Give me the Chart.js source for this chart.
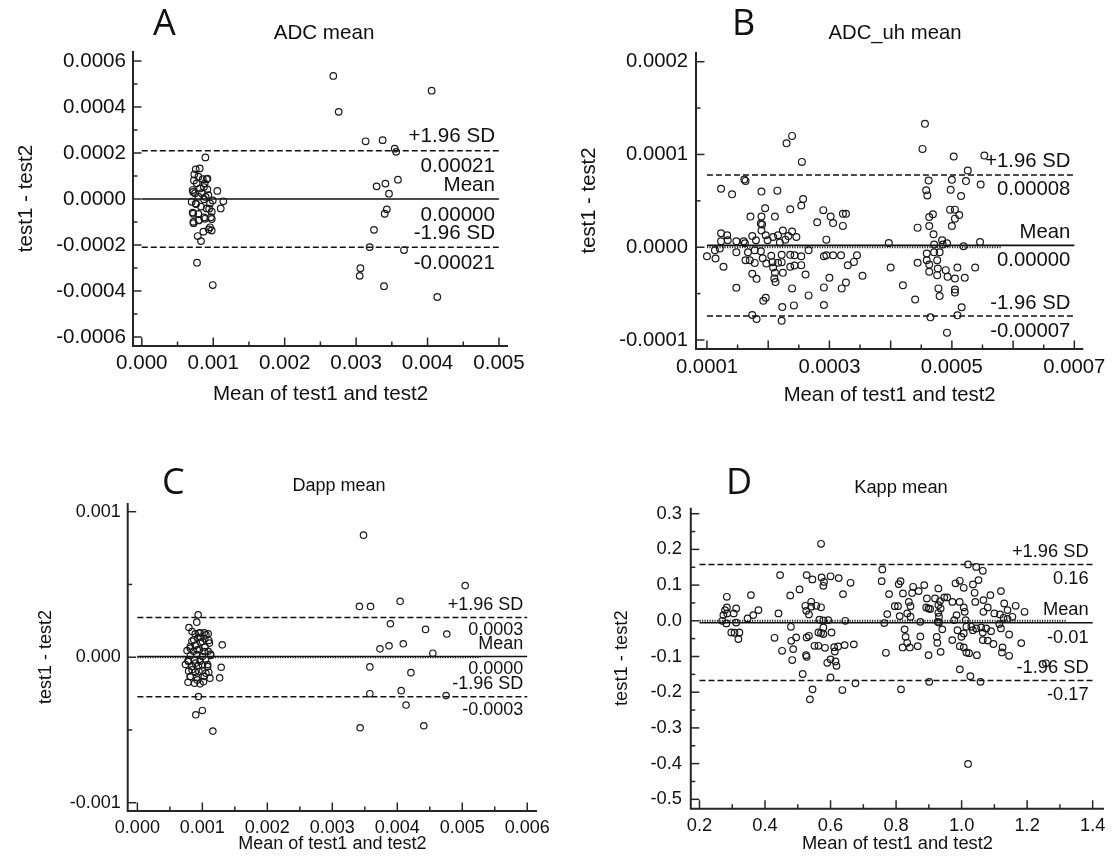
<!DOCTYPE html>
<html><head><meta charset="utf-8">
<script src="https://cdn.jsdelivr.net/npm/chart.js@4.4.1/dist/chart.umd.min.js"></script>
<style>
html,body{margin:0;padding:0;background:#fff;}
#wrap{position:relative;width:1112px;height:862px;overflow:hidden;background:#fff;}
canvas{position:absolute;}
</style></head><body>
<div id="wrap">
<canvas id="cA" width="556" height="431" style="left:0;top:0"></canvas>
<canvas id="cB" width="556" height="431" style="left:556px;top:0"></canvas>
<canvas id="cC" width="556" height="431" style="left:0;top:431px"></canvas>
<canvas id="cD" width="556" height="431" style="left:556px;top:431px"></canvas>
</div>
<script>
// ---------------- DATA ----------------
// Panel A: ADC mean
const A_PTS = [
[2.68e-3,5.35e-4],[2.756e-3,3.79e-4],[4.057e-3,4.71e-4],[3.133e-3,2.51e-4],[3.371e-3,2.56e-4],[3.54e-3,2.19e-4],[3.56e-3,2.05e-4],[3.585e-3,8.4e-5],[3.287e-3,5.5e-5],[3.41e-3,6.7e-5],[3.46e-3,2.3e-5],[3.43e-3,-4.5e-5],[3.40e-3,-6.4e-5],[3.25e-3,-1.34e-4],[3.19e-3,-2.09e-4],[3.67e-3,-2.22e-4],[3.06e-3,-3.01e-4],[3.05e-3,-3.34e-4],[3.39e-3,-3.79e-4],[4.136e-3,-4.26e-4],
[8.90e-4,1.81e-4],[7.55e-4,1.29e-4],[8.11e-4,1.33e-4],[7.35e-4,1.07e-4],[7.92e-4,9.7e-5],[8.53e-4,8.6e-5],[9.09e-4,8.6e-5],[7.68e-4,6.8e-5],[8.80e-4,6.8e-5],[7.12e-4,3.9e-5],[8.15e-4,4.6e-5],[9.18e-4,4.2e-5],[1.057e-3,3.5e-5],[7.45e-4,2.5e-5],[8.38e-4,2.5e-5],[9.32e-4,1.7e-5],[7.92e-4,1.0e-5],[6.98e-4,-1.2e-5],[8.71e-4,-1e-6],[1.141e-3,-1.0e-5],[7.59e-4,-2.2e-5],[9.55e-4,-1.9e-5],[1.105e-3,-4.1e-5],[8.29e-4,-3.3e-5],[9.09e-4,-4.1e-5],[7.12e-4,-5.9e-5],[7.92e-4,-6.5e-5],[9.79e-4,-5.5e-5],[8.71e-4,-8.0e-5],[9.79e-4,-8.7e-5],[7.22e-4,-9.9e-5],[8.01e-4,-9.1e-5],[9.55e-4,-1.23e-4],[9.37e-4,-1.32e-4],[8.62e-4,-1.42e-4],[7.83e-4,-1.61e-4],[8.29e-4,-1.83e-4],[7.73e-4,-2.77e-4],[9.93e-4,-3.74e-4],
[9.19e-4,8.9e-5],[7.30e-4,8.1e-5],[8.69e-4,5.2e-5],[7.20e-4,3.1e-5],[8.94e-4,9e-6],[9.93e-4,-6e-6],[7.55e-4,-2.0e-5],[9.43e-4,-4.2e-5],[7.20e-4,-6.4e-5],[8.84e-4,-8.6e-5],[9.68e-4,-7.9e-5],[7.25e-4,-1.05e-4],[7.94e-4,-9.3e-5],[9.78e-4,-1.37e-4]
];
const A_LINES = [0.00021, 0.0, -0.00021];
const A_LINE_TEXT = ['0.00021', '0.00000', '-0.00021'];
const A_X_LABELS = [0, 0.001, 0.002, 0.003, 0.004, 0.005];
const A_X_MINOR = [0.0005, 0.0015, 0.0025, 0.0035, 0.0045];
const A_Y_LABELS = [0.0006, 0.0004, 0.0002, 0, -0.0002, -0.0004, -0.0006];
const A_Y_MINOR = [0.0005, 0.0003, 0.0001, -0.0001, -0.0003, -0.0005];

// Panel B: ADC_uh mean
const B_PTS = [
[2.30e-4,1.12e-4],[2.39e-4,1.20e-4],[2.55e-4,9.2e-5],[1.61e-4,7.3e-5],[1.63e-4,7.15e-5],[1.23e-4,6.3e-5],[1.41e-4,5.7e-5],[1.89e-4,6.0e-5],[2.15e-4,6.1e-5],[2.57e-4,5.2e-5],[2.54e-4,4.5e-5],[2.36e-4,4.1e-5],[1.95e-4,4.2e-5],[1.71e-4,3.3e-5],[2.11e-4,3.3e-5],[1.89e-4,3.3e-5],[1.88e-4,2.55e-5],[1.90e-4,2.45e-5],[2.80e-4,2.7e-5],[2.90e-4,4.0e-5],[3.02e-4,3.3e-5],[3.06e-4,2.6e-5],[1.23e-4,1.5e-5],[1.33e-4,1.3e-5],[1.23e-4,6.5e-6],[1.34e-4,7.5e-6],[1.48e-4,6.5e-6],[1.60e-4,6.5e-6],[1.62e-4,4.3e-6],[1.74e-4,1.2e-5],[1.80e-4,7.5e-6],[1.89e-4,1.8e-5],[1.96e-4,1.3e-5],[1.99e-4,7.5e-6],[2.08e-4,1.1e-5],[2.16e-4,1.3e-5],[2.24e-4,1.8e-5],[2.28e-4,8.2e-6],[2.33e-4,1.2e-5],[2.39e-4,1.7e-5],[2.46e-4,1.1e-5],[2.19e-4,5.0e-6],[1.00e-4,-9.7e-6],[1.13e-4,-3.2e-6],[1.21e-4,-1.4e-6],[1.14e-4,-1.22e-5],[1.27e-4,-2.11e-5],[1.48e-4,-5.4e-6],[1.67e-4,-5.4e-6],[1.70e-4,-1.4e-5],[1.63e-4,-1.4e-5],[1.78e-4,-1.69e-5],[1.78e-4,-3.2e-6],[1.88e-4,-4.3e-6],[1.91e-4,-1.2e-5],[1.97e-4,-1.75e-5],[2.05e-4,-9.3e-6],[2.08e-4,-2.18e-5],[2.07e-4,-1.61e-5],[2.16e-4,-1.68e-5],[2.22e-4,-8.2e-6],[2.22e-4,-1.61e-5],[2.24e-4,-2.76e-5],[2.36e-4,-8.2e-6],[2.36e-4,-2.1e-5],[2.43e-4,-8.6e-6],[2.43e-4,-1.97e-5],[2.54e-4,-9.7e-6],[2.54e-4,-1.93e-5],[2.66e-4,-3.2e-6],[2.61e-4,-2.94e-5],[2.11e-4,-2.76e-5],[2.10e-4,-3.37e-5],[2.12e-4,-3.76e-5],[2.39e-4,-4.44e-5],[1.74e-4,-2.87e-5],[1.81e-4,-3.41e-5],[1.48e-4,-4.37e-5],[1.96e-4,-5.45e-5],[1.92e-4,-5.77e-5],[2.23e-4,-6.45e-5],[2.42e-4,-6.27e-5],[2.66e-4,-5.19e-5],[2.91e-4,-6.24e-5],[2.91e-4,-4.33e-5],[3.00e-4,-3.3e-5],[2.91e-4,-9.7e-6],[2.95e-4,-8.6e-6],[3.06e-4,-8.6e-6],[1.74e-4,-7.31e-5],[1.81e-4,-7.74e-5],[2.22e-4,-7.92e-5],[2.95e-4,8.2e-6],
[3.22e-4,3.6e-5],[3.27e-4,3.6e-5],[3.22e-4,2.3e-5],[3.19e-4,-8.6e-6],[3.45e-4,-8.6e-6],[3.40e-4,-1.58e-5],[3.30e-4,-1.94e-5],[3.54e-4,-3.08e-5],[3.27e-4,-3.8e-5],[3.20e-4,-4.44e-5],[3.97e-4,4.6e-6],[4.00e-4,-2.18e-5],[4.20e-4,-4.09e-5],[4.40e-4,-5.63e-5],[4.44e-4,2.11e-5],[4.56e-4,1.33e-4],[4.52e-4,1.06e-4],[4.62e-4,7.2e-5],[4.58e-4,6.13e-5],[4.60e-4,5.59e-5],[4.69e-4,3.55e-5],[4.63e-4,3.26e-5],[4.63e-4,2.29e-5],[4.70e-4,1.4e-5],[4.84e-4,7.5e-6],[4.71e-4,2.9e-6],[4.85e-4,3e-6],[4.92e-4,4.3e-6],[4.59e-4,-6.8e-6],[4.71e-4,-5.4e-6],[4.80e-4,-5.4e-6],[4.44e-4,-1.68e-5],[4.59e-4,-1.4e-5],[4.63e-4,-1.87e-5],[4.76e-4,-1.4e-5],[4.63e-4,-2.65e-5],[4.77e-4,-2.29e-5],[4.76e-4,-3.01e-5],[4.90e-4,-2.47e-5],[4.93e-4,-3.19e-5],[5.05e-4,-3.37e-5],[5.09e-4,-2.18e-5],[4.78e-4,-4.44e-5],[4.80e-4,-5.27e-5],[5.05e-4,-4.55e-5],[5.05e-4,-4.87e-5],[5.21e-4,-3.3e-5],[5.38e-4,-2.18e-5],[5.16e-4,-6.48e-5],[4.65e-4,-7.56e-5],[5.09e-4,-7.34e-5],[4.92e-4,-9.21e-5],[5.03e-4,9.78e-5],[5.53e-4,9.89e-5],[5.26e-4,8.28e-5],[5.00e-4,7.28e-5],[5.23e-4,7.13e-5],[5.47e-4,6.77e-5],[4.98e-4,6.2e-5],[5.15e-4,5.52e-5],[4.97e-4,4.05e-5],[5.05e-4,4.05e-5],[5.12e-4,3.48e-5],[5.05e-4,3.08e-5],[5.00e-4,2.29e-5],[5.19e-4,1.1e-6],[5.46e-4,5.7e-6]
];
const B_LINES = [0.000078, 0.000002, -0.0000742];
const B_LINE_TEXT = ['0.00008', '0.00000', '-0.00007'];
const B_ZERO_RANGE = [0.0001, 0.00058];
const B_X_LABELS = [0.0001, 0.0003, 0.0005, 0.0007];
const B_X_MAJOR = [0.0001, 0.0002, 0.0003, 0.0004, 0.0005, 0.0006, 0.0007];
const B_X_MINOR = [0.00015, 0.00025, 0.00035, 0.00045, 0.00055, 0.00065];
const B_Y_LABELS = [0.0002, 0.0001, 0, -0.0001];
const B_Y_MINOR = [0.00015, 0.00005, -0.00005];

// Panel C: Dapp mean
const C_PTS = [
[3.48e-3,8.39e-4],[5.045e-3,4.92e-4],[3.417e-3,3.49e-4],[3.589e-3,3.49e-4],[4.044e-3,3.84e-4],[3.894e-3,2.30e-4],[4.435e-3,1.91e-4],[4.762e-3,1.59e-4],[3.733e-3,5.75e-5],[3.873e-3,7.82e-5],[4.092e-3,9.2e-5],[4.547e-3,2.76e-5],[3.578e-3,-6.67e-5],[4.21e-3,-1.06e-4],[4.06e-3,-2.30e-4],[3.578e-3,-2.51e-4],[4.751e-3,-2.64e-4],[4.135e-3,-3.29e-4],[3.428e-3,-4.85e-4],[4.408e-3,-4.71e-4],
[9.35e-4,2.91e-4],[9.14e-4,2.41e-4],[7.94e-4,2.04e-4],[8.90e-4,1.61e-4],[9.65e-4,1.68e-4],[1.03e-3,1.68e-4],[1.09e-3,1.61e-4],[9.31e-4,1.33e-4],[9.73e-4,1.37e-4],[1.037e-3,1.26e-4],[8.39e-4,1.10e-4],[9.74e-4,1.03e-4],[1.10e-3,1.15e-4],[1.306e-3,8.5e-5],[8.15e-4,7.4e-5],[8.90e-4,8.0e-5],[1.04e-3,6.9e-5],[7.64e-4,4.6e-5],[8.64e-4,4.1e-5],[9.55e-4,5.1e-5],[1.09e-3,4.1e-5],[8.15e-4,1.2e-5],[9.14e-4,1.9e-5],[1.00e-3,5e-6],[1.13e-3,1.2e-5],[7.79e-4,-2.3e-5],[8.80e-4,-1.8e-5],[9.65e-4,-2.8e-5],[1.05e-3,-1.8e-5],[1.29e-3,-6.9e-5],[7.39e-4,-5.0e-5],[8.39e-4,-6.4e-5],[9.40e-4,-5.7e-5],[1.08e-3,-5.0e-5],[7.89e-4,-9.6e-5],[8.90e-4,-1.03e-4],[1.00e-3,-9.1e-5],[1.10e-3,-1.03e-4],[1.266e-3,-1.42e-4],[8.15e-4,-1.33e-4],[9.14e-4,-1.37e-4],[1.03e-3,-1.33e-4],[7.79e-4,-1.72e-4],[8.80e-4,-1.79e-4],[9.65e-4,-1.83e-4],[1.116e-3,-1.44e-4],[9.40e-4,-2.70e-4],[1.00e-3,-3.66e-4],[8.99e-4,-3.96e-4],[1.162e-3,-5.08e-4],
[8.41e-4,1.77e-4],[9.48e-4,1.66e-4],[1.055e-3,1.54e-4],[8.68e-4,1.20e-4],[1.002e-3,1.08e-4],[1.109e-3,9.7e-5],[8.14e-4,6.2e-5],[9.21e-4,5.1e-5],[1.028e-3,3.9e-5],[1.125e-3,2.1e-5],[7.87e-4,-3.0e-5],[8.94e-4,-4.1e-5],[1.002e-3,-5.3e-5],[1.082e-3,-6.4e-5],[8.41e-4,-8.7e-5],[9.48e-4,-9.9e-5],[1.055e-3,-1.10e-4],[8.14e-4,-1.33e-4],[9.21e-4,-1.56e-4],[1.018e-3,-1.68e-4]
];
const C_LINES = [0.000273, 0.000005, -0.000272];
const C_LINE_TEXT = ['0.0003', '0.0000', '-0.0003'];
const C_ZERO_RANGE = [0, 0.00528];
const C_X_LABELS = [0, 0.001, 0.002, 0.003, 0.004, 0.005, 0.006];
const C_X_MINOR = [0.0005, 0.0015, 0.0025, 0.0035, 0.0045, 0.0055];
const C_Y_LABELS = [0.001, 0, -0.001];
const C_Y_MINOR = [0.0005, -0.0005];

// Panel D: Kapp mean
const D_PTS = [
[0.2835,0.0672],[0.2835,0.0375],[0.278,0.030],[0.312,0.0347],[0.273,0.016],[0.2845,0.0207],[0.3045,0.0207],[0.2695,0.0],[0.282,-0.0073],[0.312,-0.005],[0.297,-0.0325],[0.307,-0.0335],[0.3217,-0.0325],[0.3187,-0.0513],[0.357,0.072],[0.3467,0.0067],[0.364,0.016],[0.38,0.030],[0.446,0.128],[0.441,0.0207],[0.429,-0.0476],[0.479,-0.0168],[0.477,0.0711],[0.5054,0.088],[0.452,-0.084],[0.486,-0.0793],[0.483,-0.11],[0.495,-0.0465],[0.48,-0.056],[0.527,-0.0465],[0.534,-0.042],[0.515,-0.149],[0.527,-0.1008],[0.525,-0.096],[0.527,0.128],[0.5446,0.116],[0.523,0.042],[0.541,0.0532],[0.5566,0.042],[0.526,0.028],[0.541,0.0396],[0.571,0.0378],[0.534,0.018],[0.5726,0.1215],[0.580,0.109],[0.578,0.098],[0.600,0.1247],[0.625,0.1196],[0.661,0.1064],[0.638,0.0748],[0.571,0.2157],[0.566,0.003],[0.578,0.001],[0.593,0.002],[0.645,0.0],[0.563,-0.0327],[0.571,-0.034],[0.578,-0.037],[0.563,-0.070],[0.551,-0.070],[0.603,-0.0327],[0.578,-0.0185],[0.583,-0.0756],[0.611,-0.074],[0.623,-0.072],[0.613,-0.086],[0.643,-0.068],[0.671,-0.066],[0.59,-0.1176],[0.60,-0.108],[0.615,-0.114],[0.618,-0.126],[0.60,-0.1585],[0.545,-0.192],[0.537,-0.22],[0.636,-0.194],[0.676,-0.175],[0.758,0.144],[0.756,0.111],[0.7786,0.0748],[0.773,0.0188],[0.796,0.041],[0.764,-0.0063],[0.769,-0.0896],
[0.8136,0.111],[0.808,0.1028],[0.821,0.0767],[0.849,0.078],[0.852,0.0952],[0.869,0.0832],[0.886,0.100],[0.806,0.041],[0.839,0.053],[0.844,0.041],[0.894,0.0627],[0.892,0.0375],[0.834,0.0207],[0.811,0.0132],[0.844,0.0113],[0.874,-0.003],[0.899,0.0347],[0.904,0.033],[0.929,0.0907],[0.919,0.0627],[0.934,0.0552],[0.947,0.0655],[0.956,0.0655],[0.929,0.044],[0.936,0.0347],[0.929,0.0224],[0.931,0.0113],[0.927,-0.003],[0.931,-0.0048],[0.941,-0.024],[0.926,-0.0616],[0.936,-0.087],[0.924,-0.045],[0.826,-0.024],[0.829,-0.045],[0.834,-0.0616],[0.842,-0.0747],[0.82,-0.0747],[0.866,-0.071],[0.874,-0.0437],[0.899,-0.096],
[1.0196,0.158],[1.0446,0.151],[1.0647,0.140],[1.0516,0.114],[1.0346,0.102],[1.0065,0.0924],[0.9945,0.112],[0.9814,0.105],
[0.972,0.053],[0.994,0.053],[1.0065,0.0375],[1.0095,0.0252],[0.9845,0.016],[0.9775,0.002],[1.0396,0.0785],[1.0416,0.053],[1.0667,0.058],[1.0878,0.072],[1.12,0.0832],[1.0798,0.0375],[1.0667,0.0252],[1.0999,0.0207],[1.117,0.018],[1.13,0.0487],[1.14,0.030],[1.155,0.0112],[1.165,0.042],[1.192,0.0252],[1.128,0.0084],[1.14,0.005],[1.115,-0.0092],[1.12,-0.0213],
[1.0125,0.002],[1.0145,-0.0168],[1.0296,-0.0168],[1.0446,-0.0213],[1.0597,-0.0185],[1.0748,-0.0213],[1.0898,-0.029],[1.0647,-0.033],[1.0346,-0.0263],[0.9874,-0.0263],[0.9995,-0.045],[1.0065,-0.0356],
[1.0647,-0.054],[1.0798,-0.0555],[1.097,-0.065],[1.125,-0.0747],[1.123,-0.0887],[1.145,-0.098],[1.145,-0.0383],[1.182,-0.0625],
[1.0065,-0.0747],[1.0145,-0.0887],[1.0226,-0.0906],[1.0466,-0.0962],[0.9714,-0.054],[0.9945,-0.071],
[0.9945,-0.136],[1.0266,-0.155],[1.0577,-0.171],[0.9011,-0.171],[0.815,-0.192],[1.0196,-0.401],[1.2575,-0.119]
];
const D_LINES = [0.158, -0.0056, -0.167];
const D_LINE_TEXT = ['0.16', '-0.01', '-0.17'];
const D_ZERO_RANGE = [0.2, 1.318];
const D_X_LABELS = [0.2, 0.4, 0.6, 0.8, 1.0, 1.2, 1.4];
const D_X_MINOR = [0.3, 0.5, 0.7, 0.9, 1.1, 1.3];
const D_Y_LABELS = [0.3, 0.2, 0.1, 0, -0.1, -0.2, -0.3, -0.4, -0.5];
const D_Y_MINOR = [0.25, 0.15, 0.05, -0.05, -0.15, -0.25, -0.35, -0.45];

// ---------------- RENDER ----------------
const FONT = "'Liberation Sans', Arial, sans-serif";
Chart.defaults.font.family = FONT;
Chart.defaults.color = '#111';

const baPlugin = {
  id: 'ba',
  afterDraw(chart, args, o) {
    const ctx = chart.ctx, xs = chart.scales.x, ys = chart.scales.y, ca = chart.chartArea;
    ctx.save();
    ctx.strokeStyle = '#262626';
    ctx.lineWidth = 2;
    ctx.beginPath();
    ctx.moveTo(ca.left, ca.top); ctx.lineTo(ca.left, ca.bottom); ctx.lineTo(ca.right, ca.bottom);
    ctx.stroke();
    ctx.lineWidth = 1.5;
    const seg = (x1, y1, x2, y2) => { ctx.beginPath(); ctx.moveTo(x1, y1); ctx.lineTo(x2, y2); ctx.stroke(); };
    o.xMajor.forEach(v => { const p = xs.getPixelForValue(v); seg(p, ca.bottom, p, ca.bottom - 8.5); });
    o.xMinor.forEach(v => { const p = xs.getPixelForValue(v); seg(p, ca.bottom, p, ca.bottom - 4.5); });
    o.yMajor.forEach(v => { const p = ys.getPixelForValue(v); seg(ca.left, p, ca.left + 8.5, p); });
    o.yMinor.forEach(v => { const p = ys.getPixelForValue(v); seg(ca.left, p, ca.left + 4.5, p); });
    // panel letter
    ctx.fillStyle = '#111';
    ctx.textBaseline = 'middle';
    ctx.textAlign = 'left';
    ctx.font = "36px 'Open Sans', 'Noto Sans', sans-serif";
    ctx.fillText(o.letter, o.letterX, o.letterY);
    // title
    ctx.textAlign = 'center';
    ctx.font = o.fs + 'px ' + FONT;
    ctx.fillText(o.title, o.titleX, o.titleY);
    // limits annotations
    ctx.textAlign = 'right';
    ctx.font = o.afs + 'px ' + FONT;
    const rx = xs.getPixelForValue(o.xEnd) - 4;
    const names = ['+1.96 SD', 'Mean', '-1.96 SD'];
    o.lines.forEach((v, i) => {
      const p = ys.getPixelForValue(v);
      ctx.fillText(names[i], rx, p + o.up);
      ctx.fillText(o.lineText[i], rx, p + o.dn);
    });
    ctx.restore();
  }
};

function makePanel(id, P) {
  const lineDs = (y, dash, w) => ({
    data: [{x: P.xLab[0], y: y}, {x: P.xEnd, y: y}],
    showLine: true, pointRadius: 0, borderColor: '#111', borderWidth: w, borderDash: dash, fill: false
  });
  const ds = [
    { data: P.pts.map(p => ({x: p[0], y: p[1]})), pointRadius: P.r, pointHoverRadius: P.r,
      borderColor: '#1a1a1a', backgroundColor: 'rgba(0,0,0,0)', borderWidth: 1.2, showLine: false },
    lineDs(P.lines[0], [6, 3], 1.5),
    lineDs(P.lines[1], [], 1.6),
    lineDs(P.lines[2], [6, 3], 1.5)
  ];
  if (P.zero) {
    ds.push({ data: [{x: P.zero[0], y: 0}, {x: P.zero[1], y: 0}], showLine: true, pointRadius: 0,
      borderColor: '#222', borderWidth: 2, borderDash: [1.2, 1.3], fill: false });
  }
  new Chart(document.getElementById(id), {
    type: 'scatter',
    data: { datasets: ds },
    plugins: [baPlugin],
    options: {
      responsive: false, animation: false, devicePixelRatio: 1,
      layout: { padding: { left: 0, top: P.T, right: P.R, bottom: 0 } },
      plugins: {
        legend: { display: false }, tooltip: { enabled: false },
        ba: { letter: P.letter, letterX: P.letterX, letterY: P.letterY, title: P.title, titleX: P.titleX, titleY: P.titleY,
              fs: P.fs, afs: P.afs, xEnd: P.xEnd, lines: P.lines, lineText: P.lineText, up: P.up, dn: P.dn,
              xMajor: P.xMajor, xMinor: P.xMinor, yMajor: P.yLab, yMinor: P.yMinor }
      },
      scales: {
        x: {
          type: 'linear', min: P.xMin, max: P.xMax,
          afterBuildTicks: s => { s.ticks = P.xLab.map(v => ({value: v})); },
          afterFit: s => { s.height = P.H; },
          grid: { display: false, drawTicks: false }, border: { display: false },
          ticks: { padding: P.xPad, font: { size: P.fs }, color: '#111', autoSkip: false, maxRotation: 0,
                   callback: v => Number(v).toFixed(P.xDec) },
          title: { display: true, text: 'Mean of test1 and test2', font: { size: P.fs }, color: '#111',
                   padding: { top: 0, bottom: P.xtPad } }
        },
        y: {
          type: 'linear', min: P.yMin, max: P.yMax,
          afterBuildTicks: s => { s.ticks = P.yLab.map(v => ({value: v})); },
          afterFit: s => { s.width = P.L; },
          grid: { display: false, drawTicks: false }, border: { display: false },
          ticks: { padding: P.yPad, font: { size: P.fs }, color: '#111', autoSkip: false,
                   callback: v => Number(v).toFixed(P.yDec) },
          title: { display: true, text: 'test1 - test2', font: { size: P.fs }, color: '#111',
                   padding: { top: P.ytPad, bottom: 0 } }
        }
      }
    }
  });
}

makePanel('cA', {
  pts: A_PTS, lines: A_LINES, lineText: A_LINE_TEXT, zero: null,
  xLab: A_X_LABELS, xMajor: A_X_LABELS, xMinor: A_X_MINOR, yLab: A_Y_LABELS, yMinor: A_Y_MINOR,
  xEnd: 0.005, xMin: -0.0001232, xMax: 0.005126, yMin: -0.0006391, yMax: 0.0006435,
  L: 133, T: 51, R: 48, H: 85, xPad: 5, yPad: 7, xtPad: 24, ytPad: 14.3, xDec: 3, yDec: 4,
  fs: 20.6, afs: 20.6, up: -14, dn: 16, r: 3.3,
  letter: 'A', letterX: 153, letterY: 25, title: 'ADC mean', titleX: 324, titleY: 33.5
});
makePanel('cB', {
  pts: B_PTS, lines: B_LINES, lineText: B_LINE_TEXT, zero: B_ZERO_RANGE,
  xLab: B_X_LABELS, xMajor: B_X_MAJOR, xMinor: B_X_MINOR, yLab: B_Y_LABELS, yMinor: B_Y_MINOR,
  xEnd: 0.0007, xMin: 0.0000821, xMax: 0.0007147, yMin: -0.0001097, yMax: 0.00021046,
  L: 140, T: 52, R: 28, H: 82, xPad: 6, yPad: 8, xtPad: 23, ytPad: 21.7, xDec: 4, yDec: 4,
  fs: 20.3, afs: 20.3, up: -13, dn: 15, r: 3.4,
  letter: 'B', letterX: 176, letterY: 25, title: 'ADC_uh mean', titleX: 339, titleY: 33
});
makePanel('cC', {
  pts: C_PTS, lines: C_LINES, lineText: C_LINE_TEXT, zero: C_ZERO_RANGE,
  xLab: C_X_LABELS, xMajor: C_X_LABELS, xMinor: C_X_MINOR, yLab: C_Y_LABELS, yMinor: C_Y_MINOR,
  xEnd: 0.006, xMin: -0.000149, xMax: 0.006151, yMin: -0.001057, yMax: 0.0010598,
  L: 127.7, T: 72, R: 10, H: 51, xPad: 6, yPad: 7, xtPad: 7.2, ytPad: 35.2, xDec: 3, yDec: 3,
  fs: 18, afs: 18, up: -12.5, dn: 13, r: 3.2,
  letter: 'C', letterX: 162, letterY: 52.5, title: 'Dapp mean', titleX: 339, titleY: 55
});
makePanel('cD', {
  pts: D_PTS, lines: D_LINES, lineText: D_LINE_TEXT, zero: D_ZERO_RANGE,
  xLab: D_X_LABELS, xMajor: D_X_LABELS, xMinor: D_X_MINOR, yLab: D_Y_LABELS, yMinor: D_Y_MINOR,
  xEnd: 1.4, xMin: 0.17346, xMax: 1.4347, yMin: -0.5263, yMax: 0.3168,
  L: 134.8, T: 76.7, R: 3, H: 53.3, xPad: 6.5, yPad: 8.8, xtPad: 7.2, ytPad: 54.8, xDec: 1, yDec: 1,
  fs: 18.3, afs: 18.3, up: -12.5, dn: 15, r: 3.3,
  letter: 'D', letterX: 170, letterY: 53, title: 'Kapp mean', titleX: 345, titleY: 57
});
</script>
</body></html>
